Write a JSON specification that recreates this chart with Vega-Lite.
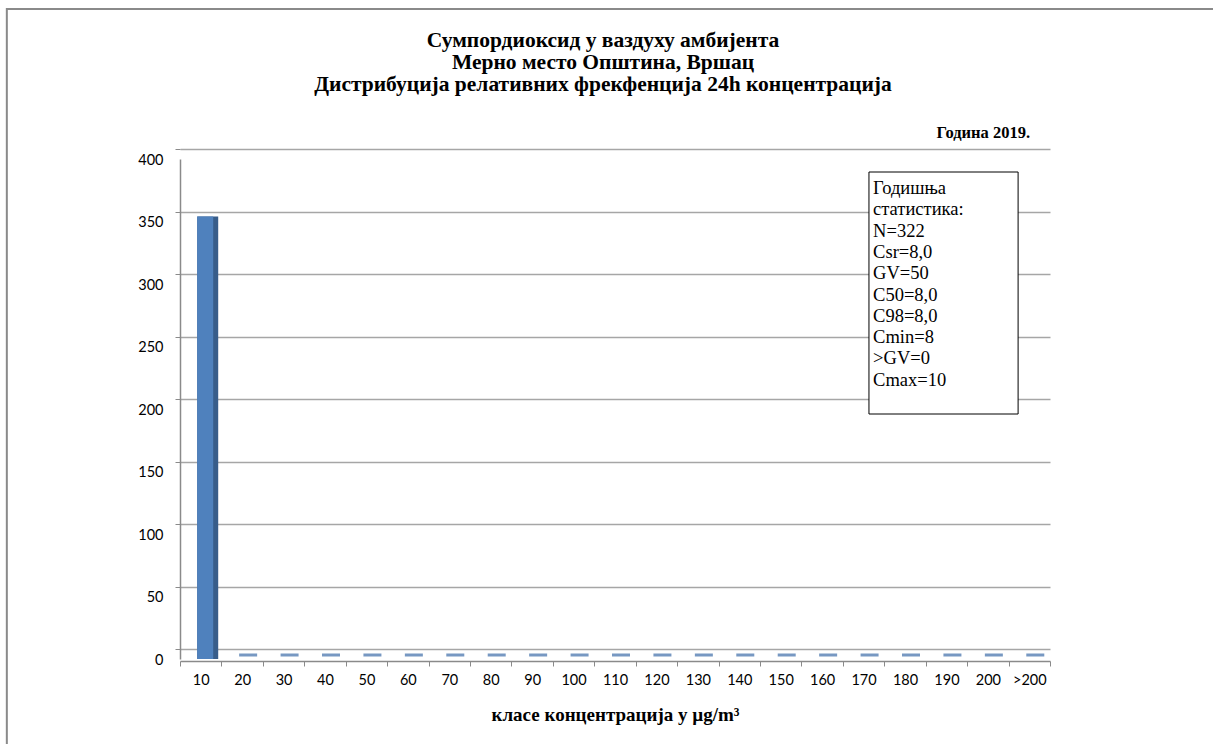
{
  "$schema": "https://vega.github.io/schema/vega-lite/v6.json",
  "width": 870,
  "height": 500,
  "autosize": "none",
  "padding": {"left": 180, "top": 159, "right": 163, "bottom": 85},
  "background": "white",
  "config": {
    "view": {"stroke": null},
    "axisY": {"grid": true, "gridColor": "#a6a6a6", "gridWidth": 1.5}
  },
  "resolve": {"scale": {"x": "independent"}, "axis": {"x": "independent"}},
  "layer": [
    {
      "data": {"values": [{}]},
      "mark": {"type": "rect", "fill": null, "stroke": "#8a8a8a", "strokeWidth": 2},
      "encoding": {
        "x": {"datum": -4.18, "type": "quantitative", "scale": {"domain": [0, 21]}, "axis": null},
        "x2": {"datum": 26},
        "y": {"datum": 520, "type": "quantitative", "scale": {"domain": [0, 400]}},
        "y2": {"datum": -100}
      }
    },
    {
      "data": {
        "values": [
          {"klasa": "10", "n": 354},
          {"klasa": "20", "n": 0},
          {"klasa": "30", "n": 0},
          {"klasa": "40", "n": 0},
          {"klasa": "50", "n": 0},
          {"klasa": "60", "n": 0},
          {"klasa": "70", "n": 0},
          {"klasa": "80", "n": 0},
          {"klasa": "90", "n": 0},
          {"klasa": "100", "n": 0},
          {"klasa": "110", "n": 0},
          {"klasa": "120", "n": 0},
          {"klasa": "130", "n": 0},
          {"klasa": "140", "n": 0},
          {"klasa": "150", "n": 0},
          {"klasa": "160", "n": 0},
          {"klasa": "170", "n": 0},
          {"klasa": "180", "n": 0},
          {"klasa": "190", "n": 0},
          {"klasa": "200", "n": 0},
          {"klasa": ">200", "n": 0}
        ]
      },
      "layer": [
        {
          "mark": {"type": "tick", "color": "#3d6ca8", "thickness": 3, "size": 18, "xOffset": 6, "yOffset": -4},
          "encoding": {
            "x": {"field": "klasa", "type": "ordinal", "sort": null, "scale": {"paddingInner": 0, "paddingOuter": 0}},
            "y": {"datum": 0, "type": "quantitative", "scale": {"domain": [0, 400]}}
          }
        },
        {
          "mark": {"type": "bar", "color": "#385d8a", "size": 21, "xOffset": 7},
          "encoding": {
            "x": {"field": "klasa", "type": "ordinal", "sort": null, "scale": {"paddingInner": 0, "paddingOuter": 0}},
            "y": {"field": "n", "type": "quantitative", "scale": {"domain": [0, 400]}}
          }
        },
        {
          "mark": {"type": "bar", "color": "#4f81bd", "size": 16, "xOffset": 4.5},
          "encoding": {
            "x": {
              "field": "klasa", "type": "ordinal", "sort": null,
              "scale": {"paddingInner": 0, "paddingOuter": 0},
              "axis": {
                "title": "класе концентрација  у   µg/m³",
                "titleFont": "Liberation Serif",
                "titleFontSize": 19,
                "titleFontWeight": "bold",
                "titleColor": "#000000",
                "titlePadding": 19,
                "labelAngle": 0,
                "labelAlign": "center",
                "labelFont": "Lato",
                "labelFontSize": 14.5,
                "labelColor": "#000000",
                "labelPadding": 14,
                "tickBand": "extent",
                "tickSize": 5,
                "tickColor": "#8a8a8a",
                "domainColor": "#8a8a8a",
                "domainWidth": 1.5,
                "grid": false,
                "offset": 2
              }
            },
            "y": {
              "field": "n", "type": "quantitative",
              "scale": {"domain": [0, 400], "nice": false},
              "axis": {
                "title": null,
                "grid": true,
                "values": [0, 50, 100, 150, 200, 250, 300, 350, 400],
                "tickOffset": -10,
                "labelOffset": 11,
                "labelFont": "Lato",
                "labelFontSize": 14.5,
                "labelColor": "#000000",
                "labelPadding": 12,
                "tickSize": 5,
                "tickColor": "#8a8a8a",
                "domainColor": "#8a8a8a",
                "domainWidth": 1.5,
                "gridColor": "#a6a6a6",
                "gridWidth": 1.5
              }
            }
          }
        }
      ]
    },
    {
      "data": {"values": [{}]},
      "mark": {
        "type": "text",
        "text": ["Сумпордиоксид у ваздуху амбијента", "Мерно место Општина, Вршац", "Дистрибуција релативних фрекфенција 24h концентрација"],
        "font": "Liberation Serif",
        "fontSize": 21.5,
        "fontWeight": "bold",
        "color": "#000000",
        "align": "center",
        "baseline": "middle",
        "lineHeight": 22
      },
      "encoding": {
        "x": {"datum": 10.21, "type": "quantitative", "scale": {"domain": [0, 21]}, "axis": null},
        "y": {"datum": 494.4, "type": "quantitative", "scale": {"domain": [0, 400]}}
      }
    },
    {
      "data": {"values": [{}]},
      "mark": {"type": "rect", "fill": "white", "stroke": "#000000", "strokeWidth": 1},
      "encoding": {
        "x": {"datum": 16.63, "type": "quantitative", "scale": {"domain": [0, 21]}, "axis": null},
        "x2": {"datum": 20.23},
        "y": {"datum": 389.6, "type": "quantitative", "scale": {"domain": [0, 400]}},
        "y2": {"datum": 196}
      }
    },
    {
      "data": {"values": [{}]},
      "mark": {
        "type": "text",
        "text": ["Годишња", "статистика:", "N=322", "Csr=8,0", "GV=50", "C50=8,0", "C98=8,0", "Cmin=8", ">GV=0", "Cmax=10"],
        "font": "Liberation Serif",
        "fontSize": 18.5,
        "color": "#000000",
        "align": "left",
        "baseline": "middle",
        "lineHeight": 21.3
      },
      "encoding": {
        "x": {"datum": 16.73, "type": "quantitative", "scale": {"domain": [0, 21]}, "axis": null},
        "y": {"datum": 376.8, "type": "quantitative", "scale": {"domain": [0, 400]}}
      }
    },
    {
      "data": {"values": [{}]},
      "mark": {
        "type": "text",
        "text": "Година 2019.",
        "font": "Liberation Serif",
        "fontSize": 16.5,
        "fontWeight": "bold",
        "color": "#000000",
        "align": "right",
        "baseline": "alphabetic"
      },
      "encoding": {
        "x": {"datum": 20.52, "type": "quantitative", "scale": {"domain": [0, 21]}, "axis": null},
        "y": {"datum": 416.8, "type": "quantitative", "scale": {"domain": [0, 400]}}
      }
    }
  ]
}
